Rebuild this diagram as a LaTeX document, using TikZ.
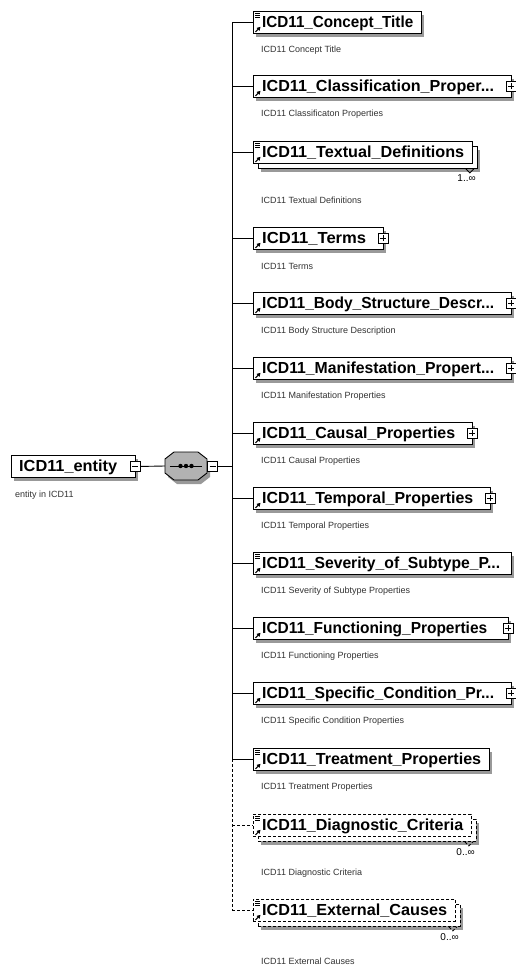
\documentclass[tikz,border=0pt]{standalone}
\usepackage{fontspec}
\setmainfont{Liberation Sans}
\usetikzlibrary{calc,shadows,arrows.meta}

\tikzset{
  ebox/.style={draw=black, line width=0.9pt, fill=white, rectangle, minimum height=22pt, inner sep=0pt, anchor=north west},
  eshadow/.style={drop shadow={shadow xshift=3pt, shadow yshift=-4pt, fill=black!40, opacity=1}},
  optional/.style={dash pattern=on 3pt off 2pt},
  etitle/.style={anchor=base west, inner sep=0pt, font=\fontsize{16}{18}\selectfont\bfseries},
  ecap/.style={anchor=west, inner sep=0pt, font=\fontsize{9}{10}\selectfont, text=black!80},
  emult/.style={anchor=base east, inner sep=0pt, font=\fontsize{10}{11}\selectfont},
  pm/.style={draw=black, fill=white, line width=0.7pt, rectangle, minimum size=10pt, inner sep=0pt},
  pmminus/.style={pm, path picture={\draw[line width=0.8pt] ([xshift=-3pt]path picture bounding box.center) -- ([xshift=3pt]path picture bounding box.center);}},
  pmplus/.style={pm, path picture={\draw[line width=0.8pt] ([xshift=-3pt]path picture bounding box.center) -- ([xshift=3pt]path picture bounding box.center) ([yshift=-3pt]path picture bounding box.center) -- ([yshift=3pt]path picture bounding box.center);}},
  wire/.style={line width=0.9pt},
}

% element box: [style]{name}{top}{right edge}{title width}{title}
\newcommand\Elem[6][]{%
  \node[ebox, eshadow, #1, minimum width={#4-253}] (#2) at (253,#3) {};
  \node[etitle] (#2-t) at (262,#3+16.5) {\resizebox{#5pt}{\height}{#6}};
}
% element with several occurrences, drawn as a stack of two boxes
\newcommand\ElemMulti[6][]{%
  \node[ebox, eshadow, #1, minimum width={#4-253}] (#2-back) at (258,#3+5) {};
  \node[ebox, #1, minimum width={#4-253}] (#2) at (253,#3) {};
  \node[etitle] (#2-t) at (262,#3+16.5) {\resizebox{#5pt}{\height}{#6}};
  \draw[line width=0.9pt, #1] ($(#2-back.south east)+(-12,0)$) -- ++(4,4) -- ++(4,-4);
}
% small markers inside an element box
\newcommand\LeafMark[1]{\draw[line width=0.6pt] ($(#1.north west)+(2,2.5)$) -- ++(4.5,0) ($(#1.north west)+(2,4.5)$) -- ++(4.5,0) ($(#1.north west)+(2,6.5)$) -- ++(4.5,0);}
\newcommand\RefMark[1]{\draw[line width=1.1pt, -{Triangle[length=3.5pt,width=4pt]}] ($(#1.south west)+(2.5,-2)$) -- ++(5,-5);}
\newcommand\Expand[1]{\node[pmplus] (#1-x) at ($(#1.east)+(-1,0)$) {};}
% outline of the sequence compositor
\newcommand\OctPath{(165,459) -- (174,452) -- (198,452) -- (207,459) -- (207,473) -- (198,480) -- (174,480) -- (165,473) -- cycle}

\begin{document}
\begin{tikzpicture}[x=1pt, y=-1pt]
\fill[white] (0,0) rectangle (516,968);
\useasboundingbox (0,0) rectangle (516,968);

% root element
\node[ebox, eshadow, minimum width=124] (root) at (11,455) {};
\node[etitle] (root-t) at (19,471.5) {\resizebox{98pt}{\height}{ICD11\_entity}};
\node[pmminus] (root-m) at ($(root.east)+(-1,0)$) {};
\node[ecap] (root-c) at (15,495) {entity in ICD11};

% sequence compositor
\node[minimum width=42pt, minimum height=28pt, inner sep=0pt] (seq) at (186,466) {};
\begin{scope}[shift={(3,4)}]
  \fill[black!40] \OctPath;
\end{scope}
\draw[line width=0.9pt, fill=black!30] \OctPath;
\draw[line width=1pt] ($(seq.west)+(5,0)$) -- ($(seq.east)+(-5,0)$);
\fill ($(seq.center)+(-5.5,0)$) circle (2.2pt) (seq.center) circle (2.2pt) ($(seq.center)+(5.5,0)$) circle (2.2pt);
\node[pmminus, anchor=west] (seq-m) at (seq.east) {};

\coordinate (trunk) at (232,466);
\draw[wire] (root-m.east) -- (seq.west);
\draw[wire] (seq-m.east) -- (trunk);

% child elements
\Elem{c1}{11}{421}{151}{ICD11\_Concept\_Title}
\LeafMark{c1}\RefMark{c1}
\Elem{c2}{75}{511}{232}{ICD11\_Classification\_Proper...}
\RefMark{c2}\Expand{c2}
\ElemMulti{c3}{141}{472}{202}{ICD11\_Textual\_Definitions}
\LeafMark{c3}\RefMark{c3}
\Elem{c4}{227}{383}{104}{ICD11\_Terms}
\RefMark{c4}\Expand{c4}
\Elem{c5}{292}{511}{232}{ICD11\_Body\_Structure\_Descr...}
\RefMark{c5}\Expand{c5}
\Elem{c6}{357}{511}{232}{ICD11\_Manifestation\_Propert...}
\RefMark{c6}\Expand{c6}
\Elem{c7}{422}{472}{193}{ICD11\_Causal\_Properties}
\RefMark{c7}\Expand{c7}
\Elem{c8}{487}{490}{211}{ICD11\_Temporal\_Properties}
\RefMark{c8}\Expand{c8}
\Elem{c9}{552}{511}{238}{ICD11\_Severity\_of\_Subtype\_P...}
\LeafMark{c9}\RefMark{c9}
\Elem{c10}{617}{508}{225}{ICD11\_Functioning\_Properties}
\RefMark{c10}\Expand{c10}
\Elem{c11}{682}{511}{232}{ICD11\_Specific\_Condition\_Pr...}
\RefMark{c11}\Expand{c11}
\Elem{c12}{748}{489}{219}{ICD11\_Treatment\_Properties}
\LeafMark{c12}\RefMark{c12}
\ElemMulti[optional]{c13}{814}{471}{201}{ICD11\_Diagnostic\_Criteria}
\LeafMark{c13}\RefMark{c13}
\ElemMulti[optional]{c14}{899}{455}{185}{ICD11\_External\_Causes}
\LeafMark{c14}\RefMark{c14}

% occurrence ranges
\node[emult] (c3-m) at ($(c3-back.south east)+(-2,13)$) {1..∞};
\node[emult] (c13-m) at ($(c13-back.south east)+(-2,14)$) {0..∞};
\node[emult] (c14-m) at ($(c14-back.south east)+(-2,14)$) {0..∞};

% connectors from the compositor to the children
\draw[wire] (trunk |- c1.west) -- (trunk |- c12.west);
\draw[wire, optional] (trunk |- c12.west) -- (trunk |- c14.west);
\foreach \n in {c1,c2,c3,c4,c5,c6,c7,c8,c9,c10,c11,c12}
  \draw[wire] (trunk |- \n.west) -- (\n.west);
\foreach \n in {c13,c14}
  \draw[wire, optional] (trunk |- \n.west) -- (\n.west);

% annotations
\node[ecap] (c1-c) at (261,50) {ICD11 Concept Title};
\node[ecap] (c2-c) at (261,114) {ICD11 Classificaton Properties};
\node[ecap] (c3-c) at (261,200) {ICD11 Textual Definitions};
\node[ecap] (c4-c) at (261,266) {ICD11 Terms};
\node[ecap] (c5-c) at (261,331) {ICD11 Body Structure Description};
\node[ecap] (c6-c) at (261,396) {ICD11 Manifestation Properties};
\node[ecap] (c7-c) at (261,461) {ICD11 Causal Properties};
\node[ecap] (c8-c) at (261,526) {ICD11 Temporal Properties};
\node[ecap] (c9-c) at (261,591) {ICD11 Severity of Subtype Properties};
\node[ecap] (c10-c) at (261,656) {ICD11 Functioning Properties};
\node[ecap] (c11-c) at (261,721) {ICD11 Specific Condition Properties};
\node[ecap] (c12-c) at (261,787) {ICD11 Treatment Properties};
\node[ecap] (c13-c) at (261,873) {ICD11 Diagnostic Criteria};
\node[ecap] (c14-c) at (261,961) {ICD11 External Causes};
\end{tikzpicture}
\end{document}
